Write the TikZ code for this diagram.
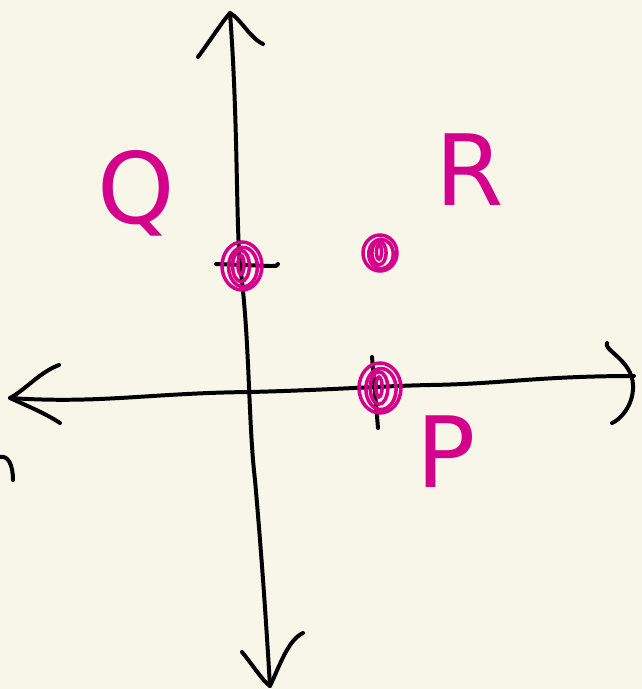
\documentclass[tikz,border=0pt]{standalone}
\usepackage{fontspec}
\setsansfont{DejaVu Sans}
\usetikzlibrary{positioning,calc}
\definecolor{paper}{HTML}{F8F6E9}
\definecolor{ink}{HTML}{D4008C}

\begin{document}
\begin{tikzpicture}[
    x=0.03cm, y=-0.03cm,
    axis/.style={draw=black, line width=3.4pt, line cap=round, line join=round},
    dotring/.style={draw=ink, line width=3pt},
    letter/.style={text=ink, font=\sffamily\fontsize{84}{84}\selectfont, inner sep=0pt}
]

% Background
\fill[paper] (0,0) rectangle (642,689);
\useasboundingbox (0,0) rectangle (642,689);

% Axis coordinates
\coordinate (ytop) at (230,13);
\coordinate (ybot) at (270,686);
\coordinate (xleft) at (10,398);
\coordinate (xright) at (634,376);

% Vertical axis
\draw[axis] (ytop) .. controls (238,120) and (236,220) .. (240,265)
    .. controls (250,340) and (248,420) .. (255,480)
    .. controls (262,560) and (266,620) .. (ybot);
\draw[axis] (198,57) .. controls (212,38) and (222,22) .. (ytop)
    .. controls (240,18) and (250,38) .. (263,44);
\draw[axis] (242,652) .. controls (255,668) and (262,680) .. (ybot)
    .. controls (280,665) and (288,640) .. (303,633);

% Horizontal axis
\draw[axis] (xleft) .. controls (100,404) and (150,393) .. (250,392)
    .. controls (330,390) and (380,386) .. (430,385)
    .. controls (500,384) and (540,376) .. (xright);
\draw[axis] (59,365) .. controls (40,372) and (25,390) .. (xleft)
    .. controls (25,405) and (45,413) .. (60,423);
\draw[axis] (607,343) .. controls (603,350) and (632,360) .. (633,385)
    .. controls (634,405) and (620,420) .. (612,423);
\draw[axis] (0,457) .. controls (8,455) and (13,465) .. (13,480);

% Ticks
\draw[axis] (216,264) -- (270,266) .. controls (276,266) and (278,266) .. (278,264);
\draw[axis] (372,357) -- (378,428);

% Points
\foreach \name/\cx/\cy/\rx/\ry in {qdot/242/266/20/24, rdot/380/253/17/18, pdot/380/388/21/25} {
    \coordinate (\name) at (\cx,\cy);
    \draw[dotring] (\name) ellipse[x radius=\rx, y radius=\ry];
    \draw[dotring] ($(\name)+(1,1)$) ellipse[x radius=0.72*\rx, y radius=0.82*\ry];
    \draw[dotring] ($(\name)+(-1,0)$) ellipse[x radius=0.42*\rx, y radius=0.65*\ry];
    \draw[dotring] ($(\name)+(-1,-1)$) ellipse[x radius=0.15*\rx, y radius=0.4*\ry];
}

% Labels
\node[letter] (qlabel) at (136,193) {Q};
\node[letter] (rlabel) at (470,170) {R};
\node[letter] (plabel) at (446,452) {P};

\end{tikzpicture}
\end{document}
